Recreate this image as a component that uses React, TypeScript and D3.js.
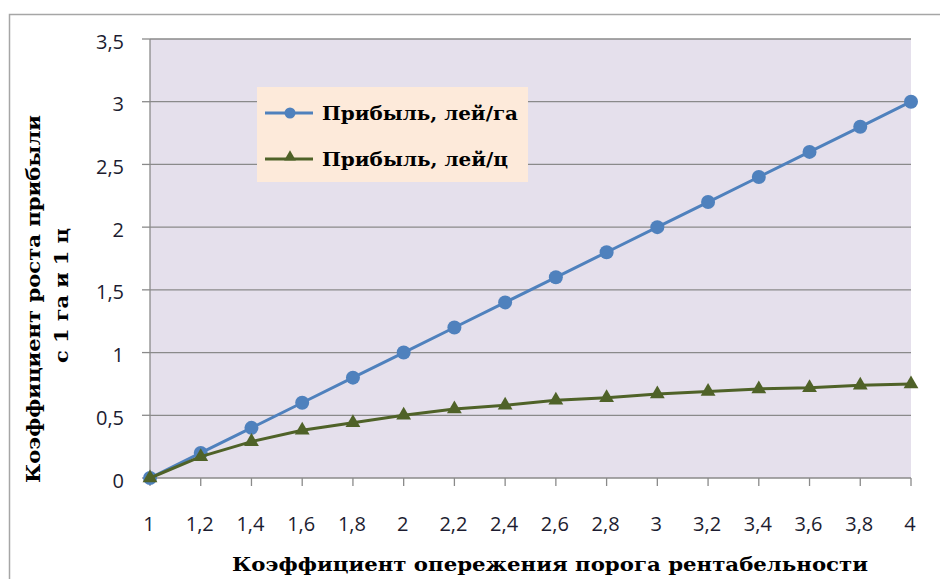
import React from "react";
import * as d3 from "d3";

const xValues = [1, 1.2, 1.4, 1.6, 1.8, 2, 2.2, 2.4, 2.6, 2.8, 3, 3.2, 3.4, 3.6, 3.8, 4];
const xTickLabels = ["1", "1,2", "1,4", "1,6", "1,8", "2", "2,2", "2,4", "2,6", "2,8", "3", "3,2", "3,4", "3,6", "3,8", "4"];
const seriesHa = [0, 0.2, 0.4, 0.6, 0.8, 1.0, 1.2, 1.4, 1.6, 1.8, 2.0, 2.2, 2.4, 2.6, 2.8, 3.0];
const seriesC = [0, 0.17, 0.29, 0.38, 0.44, 0.5, 0.55, 0.58, 0.62, 0.64, 0.67, 0.69, 0.71, 0.72, 0.74, 0.75];
const yTicks = [0, 0.5, 1, 1.5, 2, 2.5, 3, 3.5];
const yTickLabels = ["0", "0,5", "1", "1,5", "2", "2,5", "3", "3,5"];
const legendLabels = ["Прибыль, лей/га", "Прибыль, лей/ц"];
const xTitle = "Коэффициент опережения порога рентабельности";
const yTitle1 = "Коэффициент роста прибыли";
const yTitle2 = "с 1 га и  1 ц";

const W = 940, H = 579;
const L = 150, R = 911, T = 39, B = 478;
const blue = "#4F81BD";
const green = "#4F6228";
const grid = "#8A8A8A";
const serif = "'DejaVu Serif', 'Liberation Serif', serif";
const sans = "'Open Sans', 'Liberation Sans', sans-serif";
const tickColor = "#1c1c30";

export default function App() {
  const x = d3.scaleLinear().domain([1, 4]).range([L, R]);
  const y = d3.scaleLinear().domain([0, 3.5]).range([B, T]);
  const line = d3.line<number>().x((_, i) => x(xValues[i])).y((d) => y(d));
  const tri = d3.symbol().type(d3.symbolTriangle).size(95)();
  const triSmall = d3.symbol().type(d3.symbolTriangle).size(60)();

  const serifText = (props: any, content: string, len: number) => (
    <text
      {...props}
      dominantBaseline="central"
      fontFamily={serif}
      fontWeight="bold"
      fontSize={19}
      fill="#000"
      textLength={len}
      lengthAdjust="spacingAndGlyphs"
    >
      {content}
    </text>
  );

  return (
    <svg width={W} height={H} style={{ position: "absolute", left: 0, top: 0 }}>
      <rect x={0} y={0} width={W} height={H} fill="#fff" />
      <rect x={9.5} y={14.5} width={W + 20} height={H + 20} fill="#fff" stroke="#A6A6A6" strokeWidth={1.5} />
      <rect x={L} y={T} width={R - L} height={B - T} fill="#E5E0EC" />
      {yTicks.map((t, i) => (
        <g key={"y" + i}>
          {i > 0 && <line x1={L} x2={R} y1={y(t)} y2={y(t)} stroke={grid} strokeWidth={1.3} />}
          <line x1={L - 8} x2={L} y1={y(t)} y2={y(t)} stroke={grid} strokeWidth={1.3} />
          <text x={124} y={y(t) + 2} textAnchor="end" dominantBaseline="central" fontFamily={sans} fontSize={20} fill={tickColor}>
            {yTickLabels[i]}
          </text>
        </g>
      ))}
      <line x1={L} x2={L} y1={T} y2={B} stroke={grid} strokeWidth={1.3} />
      <line x1={L} x2={R} y1={B} y2={B} stroke={grid} strokeWidth={1.3} />
      {xValues.map((v, i) => (
        <g key={"x" + i}>
          <line x1={x(v)} x2={x(v)} y1={B} y2={B + 8} stroke={grid} strokeWidth={1.3} />
          <text x={x(v) - 1} y={523} textAnchor="middle" dominantBaseline="central" fontFamily={sans} fontSize={20} fill={tickColor}>
            {xTickLabels[i]}
          </text>
        </g>
      ))}
      <path d={line(seriesHa) || ""} fill="none" stroke={blue} strokeWidth={3} />
      {seriesHa.map((v, i) => (
        <circle key={"c" + i} cx={x(xValues[i])} cy={y(v)} r={7} fill={blue} />
      ))}
      <path d={line(seriesC) || ""} fill="none" stroke={green} strokeWidth={3} />
      {seriesC.map((v, i) => (
        <path key={"t" + i} d={tri || ""} transform={`translate(${x(xValues[i])},${y(v)})`} fill={green} />
      ))}
      <rect x={257} y={87} width={271} height={95} fill="#FDEADA" />
      <line x1={265} x2={313} y1={113} y2={113} stroke={blue} strokeWidth={3} />
      <circle cx={290} cy={113} r={5.5} fill={blue} />
      {serifText({ x: 322, y: 113 }, legendLabels[0], 196)}
      <line x1={265} x2={313} y1={159} y2={159} stroke={green} strokeWidth={3} />
      <path d={triSmall || ""} transform="translate(290,157)" fill={green} />
      {serifText({ x: 322, y: 159 }, legendLabels[1], 186)}
      {serifText({ x: 232, y: 564 }, xTitle, 636)}
      {serifText({ transform: "translate(33,483) rotate(-90)" }, yTitle1, 368)}
      {serifText({ transform: "translate(61,363) rotate(-90)" }, yTitle2, 135)}
    </svg>
  );
}
